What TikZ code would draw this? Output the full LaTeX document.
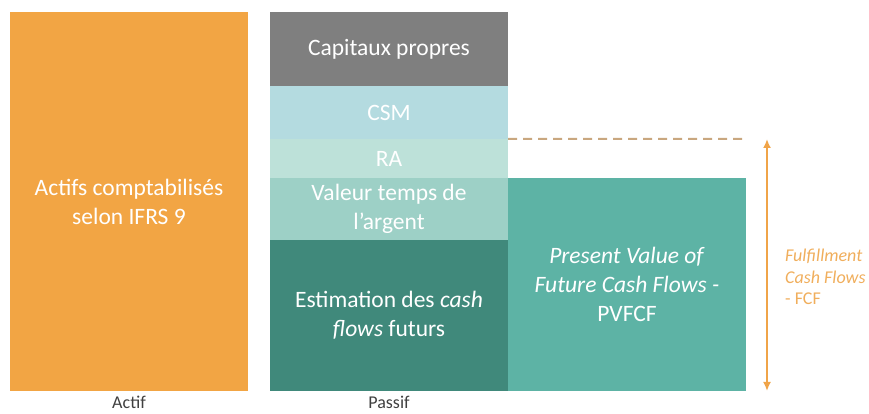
\documentclass[tikz,border=0pt]{standalone}
\usepackage{fontspec}
\setmainfont{Carlito}
\usetikzlibrary{arrows.meta}
\definecolor{actifOrange}{HTML}{F2A544}
\definecolor{capGray}{HTML}{7F7F7F}
\definecolor{csmBlue}{HTML}{B4DBE0}
\definecolor{raGreen}{HTML}{BDE1D9}
\definecolor{tvmGreen}{HTML}{9DD0C6}
\definecolor{cfDark}{HTML}{40897B}
\definecolor{pvTeal}{HTML}{5DB3A5}
\definecolor{dashTan}{HTML}{C9A77F}
\definecolor{fcfOrange}{HTML}{F0A448}
\definecolor{fcfText}{HTML}{F0AE5C}
\definecolor{labelGray}{HTML}{404040}
\begin{document}
\begin{tikzpicture}[x=1pt,y=1pt,
  bloc/.style={inner sep=0pt, text=white, align=center, minimum width=238pt,
    font=\fontsize{23.5}{29}\selectfont},
  legende/.style={text=labelGray, inner sep=0pt, anchor=base, font=\fontsize{18}{20}\selectfont}]
 \useasboundingbox (0,0) rectangle (869,414);
 % actif
 \node[bloc, fill=actifOrange, minimum height=379pt] (actif) at (129,212.5)
   {Actifs comptabilisés\\selon IFRS 9};
 % passif
 \node[bloc, fill=capGray, minimum height=74pt] (cap) at (389,365) {Capitaux propres};
 \node[bloc, fill=csmBlue, minimum height=53pt] (csm) at (389,301.5) {CSM};
 \node[bloc, fill=raGreen, minimum height=39pt] (ra) at (389,255.5) {RA};
 \node[bloc, fill=tvmGreen, minimum height=62pt] (tvm) at (389,205) {Valeur temps de\\l’argent};
 \node[bloc, fill=cfDark, minimum height=151pt] (cf) at (389,98.5)
   {Estimation des \textit{cash}\\\textit{flows} futurs};
 \node[bloc, fill=pvTeal, minimum height=213pt] (pv) at (627,129.5)
   {\textit{Present Value of}\\\textit{Future Cash Flows -}\\PVFCF};
 %
 \node[legende] (lActif) at (129,5) {Actif};
 \node[legende] (lPassif) at (389,5) {Passif};
 % fulfillment cash flows
 \coordinate (dashEnd) at (746,275);
 \draw[dashTan, line width=2pt, dash pattern=on 9pt off 6pt] (ra.north east) -- (dashEnd);
 \coordinate (fcfTop) at (767,275);
 \coordinate (fcfBot) at (767,23);
 \draw[{Latex[length=9pt,width=8pt]}-{Latex[length=9pt,width=8pt]}, fcfOrange, line width=2pt] (fcfTop) -- (fcfBot);
 \node[anchor=west, align=left, inner sep=0pt, text=fcfText, font=\fontsize{18}{21.5}\selectfont] (fcf) at (785,137)
   {\textit{Fulfillment}\\\textit{Cash Flows}\\- FCF};
\end{tikzpicture}
\end{document}
